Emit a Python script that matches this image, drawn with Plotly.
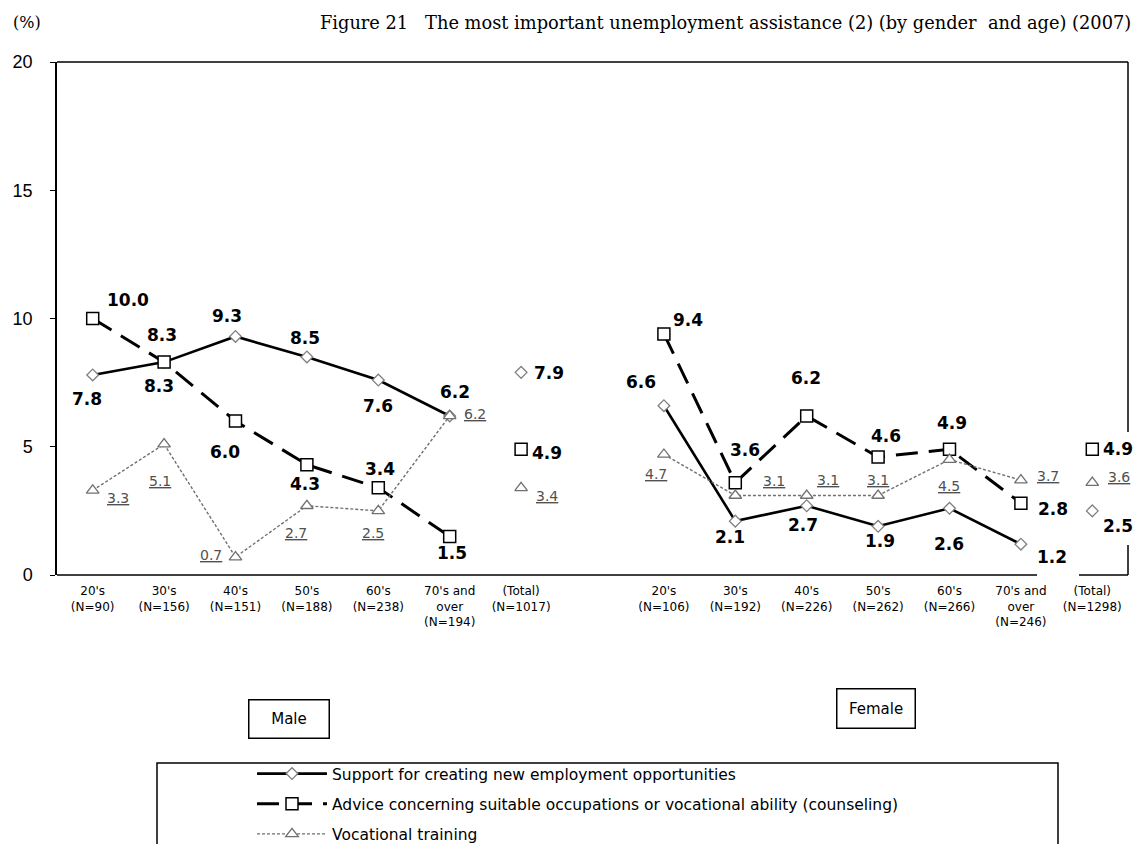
import plotly.graph_objects as go

# ---------------- data ----------------
male_ticks = ["20's<br>(N=90)", "30's<br>(N=156)", "40's<br>(N=151)", "50's<br>(N=188)",
              "60's<br>(N=238)", "70's and<br>over<br>(N=194)", "(Total)<br>(N=1017)"]
female_ticks = ["20's<br>(N=106)", "30's<br>(N=192)", "40's<br>(N=226)", "50's<br>(N=262)",
                "60's<br>(N=266)", "70's and<br>over<br>(N=246)", "(Total)<br>(N=1298)"]

series_names = ["Support for creating new employment opportunities",
                "Advice concerning suitable occupations or vocational ability (counseling)",
                "Vocational training"]

support_male = [7.8, 8.3, 9.3, 8.5, 7.6, 6.2]
support_male_total = 7.9
support_female = [6.6, 2.1, 2.7, 1.9, 2.6, 1.2]
support_female_total = 2.5

advice_male = [10.0, 8.3, 6.0, 4.3, 3.4, 1.5]
advice_male_total = 4.9
advice_female = [9.4, 3.6, 6.2, 4.6, 4.9, 2.8]
advice_female_total = 4.9

voc_male = [3.3, 5.1, 0.7, 2.7, 2.5, 6.2]
voc_male_total = 3.4
voc_female = [4.7, 3.1, 3.1, 3.1, 4.5, 3.7]
voc_female_total = 3.6

# ---------------- label offsets (pixels: dx, dy up) ----------------
support_off = [(-6, -24), (-5, -24), (-9, 20), (-2, 19), (0, -26), (5, 24), (28, -1),
               (-23, 24), (-5, -16), (-4, -19), (2, -15), (-1, -36), (31, -13), (26, -15)]
advice_off = [(35, 19), (-2, 27), (-11, -31), (-2, -19), (2, 19), (2, -16), (26, -4),
              (24, 14), (10, 33), (-1, 38), (8, 21), (2, 26), (32, -6), (26, 0)]
voc_off = [(25, -8), (-4, -37), (-25, 2), (-11, -27), (-5, -22), (25, 2), (26, -8),
           (-8, -20), (39, 14), (21, 15), (0, 15), (-1, -26), (27, 4), (27, 6)]

# ---------------- geometry helpers ----------------
# the page body has an 8px margin; figure is sized so nothing scrolls
W, H = 1126, 836
OFF = 8
PL, PR, PT, PB = 57, 1128, 62, 575          # plot area in window pixels
ML, MT = PL - OFF, PT - OFF
MR = W - (PR - OFF)
MB = H - (PB - OFF)
PW, PH = PR - PL, PB - PT


def px(x):
    return (x - PL) / PW


def py(y):
    return (PB - y) / PH


n_m = len(male_ticks)
male_x = list(range(n_m))
female_x = [n_m + 1 + i for i in range(len(female_ticks))]

styles = [
    dict(line=dict(color="black", width=2.6, dash="solid"),
         marker=dict(symbol="diamond", size=9, color="white", line=dict(color="#808080", width=1.3))),
    dict(line=dict(color="black", width=3, dash="22px,11px"),
         marker=dict(symbol="square", size=12, color="white", line=dict(color="black", width=1.5))),
    dict(line=dict(color="#707070", width=1.4, dash="3px,2px"),
         marker=dict(symbol="triangle-up", size=11, color="white", line=dict(color="#707070", width=1.3))),
]

data = [
    (support_male, support_male_total, support_female, support_female_total, support_off),
    (advice_male, advice_male_total, advice_female, advice_female_total, advice_off),
    (voc_male, voc_male_total, voc_female, voc_female_total, voc_off),
]

fig = go.Figure()
annotations = []

for k, (m, mt, f, ft, offs) in enumerate(data):
    xs = male_x[:len(m)] + [None] + female_x[:len(f)]
    ys = m + [None] + f
    fig.add_trace(go.Scatter(x=xs, y=ys, mode="lines+markers", name=series_names[k],
                             line=styles[k]["line"], marker=styles[k]["marker"],
                             connectgaps=False, showlegend=True, legendgroup=str(k)))
    fig.add_trace(go.Scatter(x=[male_x[len(m)], female_x[len(f)]], y=[mt, ft], mode="markers",
                             marker=styles[k]["marker"], showlegend=False, legendgroup=str(k)))
    allx = male_x[:len(m)] + [male_x[len(m)]] + female_x[:len(f)] + [female_x[len(f)]]
    ally = m + [mt] + f + [ft]
    for j, (xv, yv) in enumerate(zip(allx, ally)):
        dx, dy = offs[j]
        if k == 2:
            txt = "<u>%.1f</u>" % yv
            font = dict(family="DejaVu Sans", size=14, color="#505050")
        else:
            txt = "<b>%.1f</b>" % yv
            font = dict(family="DejaVu Sans", size=17, color="black")
        annotations.append(dict(x=xv, y=yv, xref="x", yref="y", text=txt, showarrow=False,
                                xanchor="center", yanchor="middle",
                                xshift=dx, yshift=dy, font=font))

# titles
annotations.append(dict(x=px(1133), y=py(22), xref="paper", yref="paper", xanchor="right",
                        yanchor="middle", showarrow=False,
                        text="Figure 21&nbsp;&nbsp; The most important unemployment assistance (2) (by gender&nbsp; and age) (2007)",
                        font=dict(family="DejaVu Serif", size=17.8, color="black")))
annotations.append(dict(x=px(27), y=py(22), xref="paper", yref="paper", xanchor="center",
                        yanchor="middle", showarrow=False, text="(%)",
                        font=dict(family="DejaVu Serif", size=16, color="black")))
# gender boxes
annotations.append(dict(x=px(288.5), y=py(718.5), xref="paper", yref="paper", showarrow=False,
                        xanchor="center", yanchor="middle",
                        text="Male", width=77, height=35, bordercolor="black", borderwidth=1.5,
                        borderpad=1, bgcolor="white",
                        font=dict(family="DejaVu Sans", size=15, color="black")))
annotations.append(dict(x=px(875.5), y=py(708), xref="paper", yref="paper", showarrow=False,
                        xanchor="center", yanchor="middle",
                        text="Female", width=75, height=36, bordercolor="black", borderwidth=1.5,
                        borderpad=1, bgcolor="white",
                        font=dict(family="DejaVu Sans", size=15, color="black")))

blk = dict(color="black", width=1.5)
shapes = [
    # frame
    dict(type="line", xref="paper", yref="paper", x0=0, x1=1, y0=1, y1=1, line=blk),
    dict(type="line", xref="paper", yref="paper", x0=0, x1=px(1037), y0=0, y1=0, line=blk),
    dict(type="line", xref="paper", yref="paper", x0=px(1079), x1=1, y0=0, y1=0, line=blk),
    dict(type="line", xref="paper", yref="paper", x0=1, x1=1, y0=1, y1=py(432), line=blk),
    dict(type="line", xref="paper", yref="paper", x0=1, x1=1, y0=py(545), y1=0, line=blk),
    # legend box
    dict(type="rect", xref="paper", yref="paper", x0=px(157), x1=px(1058), y0=py(763), y1=py(900),
         line=blk),
]

tickvals = male_x + female_x
ticktext = male_ticks + female_ticks

fig.update_layout(
    width=W, height=H,
    margin=dict(l=ML, r=MR, t=MT, b=MB, autoexpand=False),
    paper_bgcolor="white", plot_bgcolor="white",
    xaxis=dict(range=[-0.5, female_x[-1] + 0.5], tickvals=tickvals, ticktext=ticktext,
               showgrid=False, zeroline=False, showline=False, ticks="", automargin=False,
               ticklabelstandoff=7,
               tickfont=dict(family="DejaVu Sans", size=12, color="black"), tickangle=0),
    yaxis=dict(range=[0, 20], tickvals=[0, 5, 10, 15, 20], showgrid=False, zeroline=False,
               showline=True, linecolor="black", linewidth=1.5, ticks="outside", ticklen=5,
               tickcolor="black", ticklabelstandoff=14, automargin=False,
               tickfont=dict(family="Liberation Sans", size=18, color="black")),
    showlegend=True,
    legend=dict(x=px(252), y=py(757), xanchor="left", yanchor="top", orientation="v",
                bgcolor="rgba(0,0,0,0)", itemwidth=70, tracegroupgap=7,
                font=dict(family="DejaVu Sans", size=15.5, color="black")),
    annotations=annotations,
    shapes=shapes,
)

fig.write_html("out.html")
